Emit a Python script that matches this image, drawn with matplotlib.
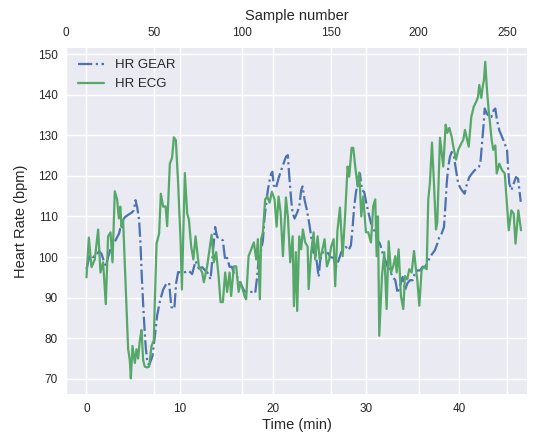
import matplotlib
matplotlib.use("Agg")
import matplotlib.pyplot as plt
import seaborn as sns

# ECG heart rate (time in minutes, bpm)
ecg_time = [0.00, 0.25, 0.54, 0.89, 1.25, 1.50, 1.78, 2.07, 2.32, 2.58, 2.79, 3.04, 3.29, 3.47,
            3.63, 3.76, 3.93, 4.47, 4.65, 4.76, 4.94, 5.19, 5.37, 5.54, 5.73, 5.91, 6.08, 6.26,
            6.51, 6.72, 6.98, 7.23, 7.34, 7.52, 7.80, 7.98, 8.23, 8.49, 8.66, 8.95, 9.19, 9.38,
            9.59, 9.84, 10.10, 10.24, 10.56, 10.81, 10.99, 11.24, 11.47, 11.71, 12.06, 12.42,
            12.60, 12.95, 13.24, 13.43, 13.67, 13.92, 14.18, 14.39, 14.64, 14.89, 15.10, 15.36,
            15.53, 15.82, 16.07, 16.33, 16.54, 16.97, 17.14, 17.40, 17.68, 17.97, 18.22, 18.40,
            18.61, 18.75, 18.94, 19.18, 19.40, 19.66, 19.90, 20.19, 20.41, 20.62, 20.84, 21.09,
            21.41, 21.62, 21.87, 22.13, 22.27, 22.48, 22.62, 22.84, 23.05, 23.23, 23.48, 23.74,
            23.85, 24.12, 24.38, 24.55, 24.81, 25.03, 25.27, 25.56, 25.81, 26.06, 26.27, 26.53,
            26.70, 26.94, 27.21, 27.50, 27.78, 28.03, 28.21, 28.46, 28.64, 28.85, 29.11, 29.28,
            29.50, 29.71, 30.00, 30.25, 30.54, 30.78, 31.00, 31.15, 31.29, 31.43, 31.72, 31.97,
            32.22, 32.44, 32.69, 32.93, 33.15, 33.30, 33.51, 33.76, 34.01, 34.19, 34.44, 34.65,
            34.91, 35.16, 35.37, 35.51, 35.73, 35.98, 36.23, 36.52, 36.69, 36.87, 37.09, 37.30,
            37.52, 37.66, 37.95, 38.13, 38.30, 38.56, 38.73, 38.95, 39.21, 39.38, 39.67, 39.91,
            40.17, 40.45, 40.63, 41.03, 41.31, 41.57, 41.82, 42.03, 42.17, 42.39, 42.53, 42.67,
            42.81, 43.00, 43.18, 43.32, 43.50, 43.67, 43.89, 44.04, 44.32, 44.61, 44.90, 45.11,
            45.33, 45.61, 45.86, 46.06, 46.36, 46.65]
ecg_hr = [95.0, 104.8, 97.5, 99.4, 106.8, 96.2, 98.7, 88.4, 105.1, 106.1, 98.7, 116.2, 114.2, 109.5,
          112.4, 107.4, 109.1, 77.3, 74.6, 70.1, 78.1, 73.9, 77.3, 75.0, 79.5, 82.0, 74.6, 73.0,
          72.8, 73.0, 78.1, 79.5, 89.4, 103.3, 105.8, 115.6, 112.4, 112.5, 107.6, 123.0, 124.5, 129.5,
          128.8, 118.1, 104.1, 92.0, 120.7, 110.7, 109.3, 102.6, 99.4, 105.1, 97.7, 96.2,
          93.8, 97.7, 102.5, 105.5, 98.7, 101.2, 95.3, 88.9, 88.9, 96.2, 91.4, 96.2,
          90.4, 97.7, 97.7, 91.4, 93.8, 90.4, 89.6, 100.2, 101.9, 103.6, 99.4, 104.4,
          89.6, 104.4, 106.1, 114.2, 114.9, 113.4, 116.1, 114.2, 107.5, 114.9, 111.0, 100.2,
          114.7, 110.0, 98.7, 105.1, 87.9, 101.2, 86.7, 105.1, 101.9, 106.8, 103.6, 102.6,
          92.1, 101.2, 106.1, 99.4, 105.1, 99.4, 101.2, 104.4, 97.7, 99.4, 102.6, 104.4,
          92.8, 106.5, 112.2, 100.2, 111.0, 122.3, 119.8, 126.9, 126.9, 122.3, 117.4, 120.8,
          110.0, 114.9, 106.1, 106.1, 103.6, 112.5, 114.2, 100.2, 110.0, 80.6, 95.3, 101.2,
          87.2, 103.9, 96.2, 97.7, 100.2, 96.2, 101.9, 90.4, 87.2, 95.3, 94.5, 97.0,
          96.2, 101.5, 97.0, 94.5, 88.0, 97.0, 97.5, 97.0, 114.2, 118.3, 128.2, 118.3,
          106.8, 108.5, 129.4, 125.7, 122.3, 132.6, 130.6, 131.8, 129.6, 127.2, 124.0, 126.4,
          127.7, 128.9, 131.3, 127.2, 134.5, 137.0, 138.2, 139.4, 142.4, 139.2, 141.9, 143.6,
          148.1, 141.0, 136.0, 133.0, 128.8, 126.4, 127.5, 120.6, 123.0, 121.4, 120.6, 114.0,
          106.6, 111.5, 110.7, 103.3, 111.5, 106.6]

# GEAR heart rate
gear_time = [0.00, 0.35, 0.71, 1.07, 1.35, 1.61, 1.86, 2.07, 2.32, 2.69, 2.93, 3.22, 3.50, 3.76,
             4.11, 4.47, 4.83, 5.08, 5.26, 5.44, 5.65, 5.80, 5.94, 6.08, 6.26, 6.37, 6.51, 6.69,
             6.80, 7.07, 7.34, 7.58, 7.87, 8.23, 8.59, 8.87, 9.11, 9.43, 9.62, 9.84, 10.27, 10.63,
             10.99, 11.34, 11.71, 12.06, 12.42, 12.78, 13.03, 13.32, 13.57, 13.81, 14.03, 14.39,
             14.64, 14.89, 15.10, 15.36, 15.61, 15.82, 16.18, 16.54, 16.90, 17.25, 17.51, 17.86,
             18.11, 18.32, 18.47, 18.69, 18.94, 19.12, 19.29, 19.47, 19.66, 19.83, 19.96, 20.09,
             20.33, 20.62, 20.90, 21.16, 21.41, 21.62, 21.76, 21.98, 22.13, 22.34, 22.59, 22.84,
             23.05, 23.20, 23.42, 23.66, 23.91, 24.12, 24.38, 24.55, 24.74, 24.92, 25.09, 25.35,
             25.63, 25.92, 26.17, 26.53, 26.78, 27.07, 27.32, 27.56, 27.85, 28.14, 28.39, 28.57,
             28.74, 28.93, 29.17, 29.36, 29.57, 29.82, 30.08, 30.29, 30.54, 30.78, 31.00, 31.26,
             31.50, 31.79, 32.07, 32.33, 32.58, 32.87, 33.15, 33.40, 33.65, 33.94, 34.19, 34.44,
             34.73, 35.02, 35.26, 35.51, 35.80, 36.09, 36.34, 36.58, 36.87, 37.16, 37.41, 37.66,
             37.87, 38.13, 38.38, 38.52, 38.67, 38.84, 39.02, 39.21, 39.45, 39.67, 39.91, 40.17,
             40.45, 40.60, 40.85, 41.10, 41.39, 41.68, 41.92, 42.11, 42.28, 42.46, 42.64, 42.75,
             43.00, 43.24, 43.46, 43.72, 43.89, 44.07, 44.32, 44.61, 44.90, 45.15, 45.25, 45.39,
             45.61, 45.86, 46.11, 46.33, 46.47, 46.62]
gear_hr = [97.0, 100.5, 100.0, 100.5, 101.5, 100.8, 99.0, 97.8, 100.0, 102.8, 103.3, 104.6, 105.8, 108.5,
           109.8, 110.4, 110.9, 111.5, 114.0, 112.3, 109.1, 103.0, 95.1, 88.5, 81.1, 77.5, 74.6, 73.4,
           73.8, 75.5, 80.5, 85.5, 89.0, 92.0, 93.5, 93.6, 87.7, 87.2, 93.5, 96.3, 96.2, 96.3,
           96.6, 95.8, 99.0, 97.2, 97.5, 96.6, 96.0, 94.5, 101.0, 107.4, 104.9, 104.6,
           104.1, 99.2, 99.8, 97.6, 97.6, 96.0, 95.1, 93.5, 91.8, 91.1, 91.4, 91.4,
           91.1, 95.1, 99.2, 101.0, 104.1, 109.9, 113.2, 116.5, 118.9, 120.6, 121.0, 117.7,
           116.9, 119.4, 121.4, 123.1, 124.7, 125.1, 120.2, 114.0, 110.8, 109.5, 110.8, 112.4,
           116.5, 117.4, 114.0, 111.6, 108.3, 105.0, 101.0, 101.7, 98.5, 95.1, 99.2, 101.2,
           101.0, 101.0, 100.0, 99.8, 97.5, 99.2, 101.0, 102.2, 102.5, 101.7, 102.9, 107.4,
           112.4, 116.0, 118.9, 120.6, 116.5, 116.0, 112.8, 110.7, 108.3, 107.4, 105.8, 104.1,
           103.3, 101.0, 99.2, 97.6, 96.7, 95.1, 94.3, 91.1, 92.8, 95.1, 91.8, 93.5,
           94.3, 94.3, 96.0, 96.7, 96.7, 97.6, 97.6, 98.4, 100.0, 100.9, 101.7, 103.3,
           104.9, 105.8, 107.4, 112.3, 118.1, 122.2, 124.7, 125.9, 124.7, 121.4, 118.1, 116.9,
           116.0, 115.6, 118.1, 119.7, 120.6, 121.4, 121.8, 122.2, 123.0, 128.0, 132.9, 136.6,
           135.3, 134.5, 134.5, 136.2, 136.6, 133.7, 131.2, 129.6, 128.0, 126.3, 122.2, 118.1,
           116.5, 118.1, 119.7, 119.3, 116.5, 113.6]

sample_ticks = [0, 50, 100, 150, 200, 250]

sns.set_theme(style="darkgrid")
plt.rcParams["font.family"] = ["Liberation Sans", "DejaVu Sans"]

fig = plt.figure(figsize=(5.41, 4.37), dpi=100)
ax = fig.add_axes([0.122, 0.096, 0.854, 0.796])

ax.plot(gear_time, gear_hr, linestyle="-.", color="#4C72B0", linewidth=1.6, label="HR GEAR")
ax.plot(ecg_time, ecg_hr, linestyle="-", color="#55A868", linewidth=1.6, label="HR ECG")

ax.set_xlim(-2.2, 47.4)
ax.set_ylim(66.0, 151.7)
ax.set_xticks([0, 10, 20, 30, 40])
ax.set_yticks([70, 80, 90, 100, 110, 120, 130, 140, 150])
ax.tick_params(labelsize=8.5, length=0, pad=6, colors=".15")
ax.set_xlabel("Time (min)", fontsize=10.5, labelpad=2, color=".15")
ax.set_ylabel("Heart Rate (bpm)", fontsize=10.5, labelpad=7, color=".15")
ax.legend(loc="upper left", fontsize=9.5, frameon=False)

# sample-number axis on top; keep its grid beneath the data lines
ax2 = ax.twiny()
ax2.set_xlim(0, 262)
ax2.set_xticks(sample_ticks)
ax2.tick_params(labelsize=8.5, length=0, pad=6, colors=".15")
ax2.set_xlabel("Sample number", fontsize=10.5, labelpad=5, color=".15")
ax2.grid(True, axis="x", color="white")
ax2.patch.set_visible(True)
ax2.patch.set_facecolor("#EAEAF2")
ax.set_zorder(ax2.get_zorder() + 1)
ax.patch.set_visible(False)

fig.savefig("out.png", dpi=100)
